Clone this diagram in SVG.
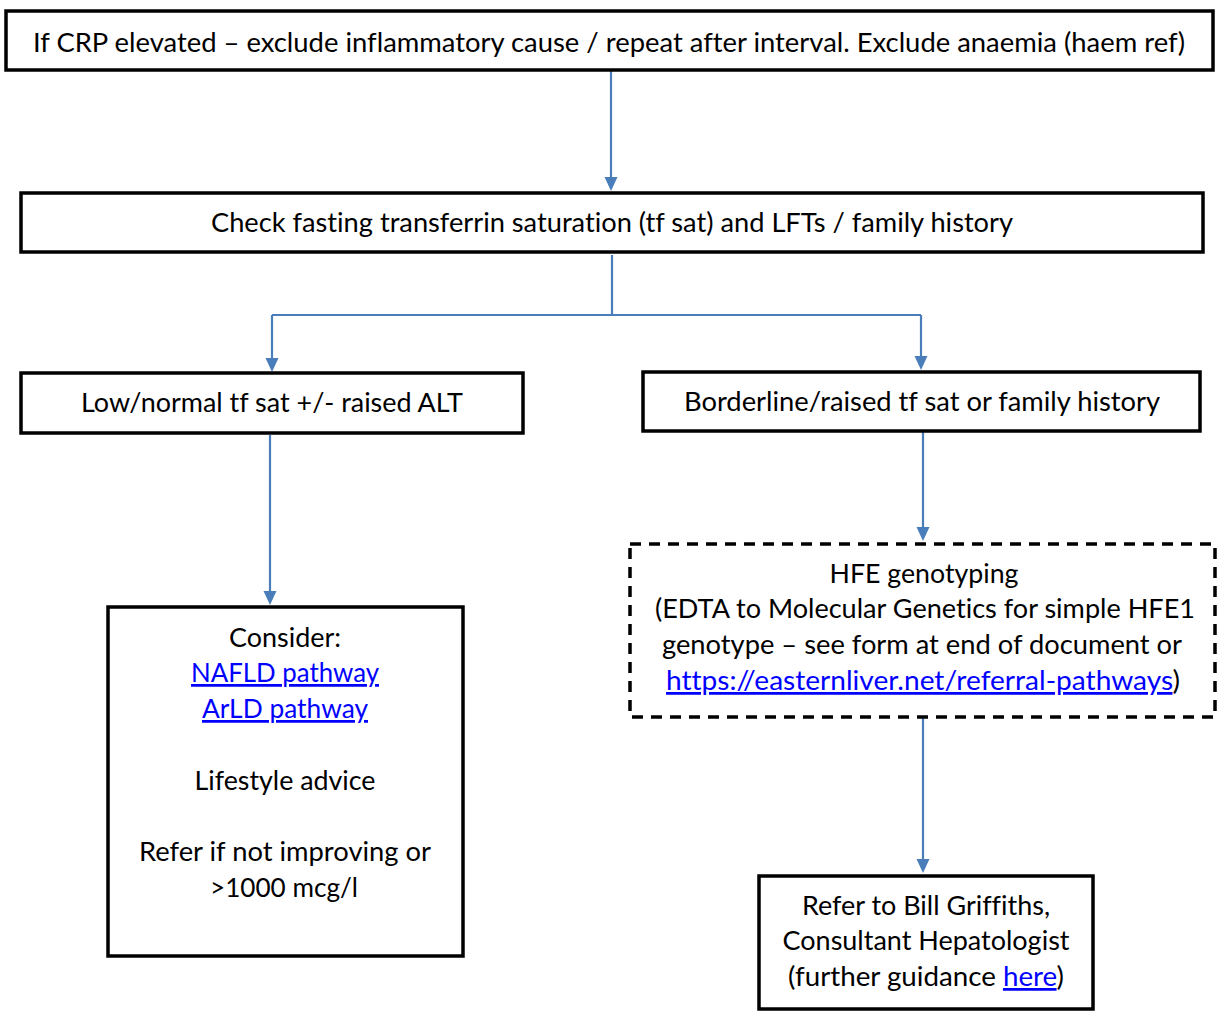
<svg xmlns="http://www.w3.org/2000/svg" width="1219" height="1012" viewBox="0 0 1219 1012">
<defs>
<style>
.box{fill:#fff;stroke:#000;stroke-width:3.5}
.dash{fill:#fff;stroke:#000;stroke-width:3.5;stroke-dasharray:11 8}
.c{fill:none;stroke:#4A7EBB;stroke-width:2.2}
.ah{fill:#4A7EBB}
text{font-family:Lato,"Liberation Sans",sans-serif;font-size:27.5px;fill:#000;text-anchor:middle;font-variant-ligatures:none}
.lk{fill:#0000FF;text-decoration:underline}
</style>
</defs>
<rect width="1219" height="1012" fill="#fff"/>
<g id="connectors">
<path class="c" d="M611,71 V177"/>
<path class="ah" d="M604.5,177 L617.5,177 L611,191 Z"/>
<path class="c" d="M612,255 V315 M272,315 H921 M272,315 V358 M921,315 V356"/>
<path class="ah" d="M265.5,358 L278.5,358 L272,372 Z"/>
<path class="ah" d="M914.5,356 L927.5,356 L921,370 Z"/>
<path class="c" d="M270,435 V591"/>
<path class="ah" d="M263.5,591 L276.5,591 L270,605 Z"/>
<path class="c" d="M923,432 V527"/>
<path class="ah" d="M916.5,527 L929.5,527 L923,541 Z"/>
<path class="c" d="M923,718 V859"/>
<path class="ah" d="M916.5,859 L929.5,859 L923,873 Z"/>
</g>
<g id="n1">
<rect class="box" x="6" y="11" width="1207" height="59"/>
<text x="609" y="52" textLength="1152" lengthAdjust="spacingAndGlyphs">If CRP elevated – exclude inflammatory cause / repeat after interval. Exclude anaemia (haem ref)</text>
</g>
<g id="n2">
<rect class="box" x="21" y="193" width="1182" height="59"/>
<text x="612" y="232" textLength="802" lengthAdjust="spacingAndGlyphs">Check fasting transferrin saturation (tf sat) and LFTs / family history</text>
</g>
<g id="n3">
<rect class="box" x="21" y="373" width="502" height="60"/>
<text x="272" y="412" textLength="382" lengthAdjust="spacingAndGlyphs">Low/normal tf sat +/- raised ALT</text>
</g>
<g id="n4">
<rect class="box" x="643" y="372" width="557" height="59"/>
<text x="922" y="411" textLength="476" lengthAdjust="spacingAndGlyphs">Borderline/raised tf sat or family history</text>
</g>
<g id="n5">
<rect class="box" x="108" y="607" width="355" height="349"/>
<text x="285" y="647" textLength="112" lengthAdjust="spacingAndGlyphs">Consider:</text>
<text x="285" y="682" class="lk" textLength="188" lengthAdjust="spacingAndGlyphs">NAFLD pathway</text>
<text x="285" y="718" class="lk" textLength="166" lengthAdjust="spacingAndGlyphs">ArLD pathway</text>
<text x="285" y="790" textLength="181" lengthAdjust="spacingAndGlyphs">Lifestyle advice</text>
<text x="285" y="861" textLength="292" lengthAdjust="spacingAndGlyphs">Refer if not improving or</text>
<text x="284" y="897" textLength="148" lengthAdjust="spacingAndGlyphs">&gt;1000 mcg/l</text>
</g>
<g id="n6">
<rect class="dash" x="630" y="544" width="585" height="173"/>
<text x="924" y="583" textLength="189" lengthAdjust="spacingAndGlyphs">HFE genotyping</text>
<text x="925" y="618" textLength="540" lengthAdjust="spacingAndGlyphs">(EDTA to Molecular Genetics for simple HFE1</text>
<text x="922" y="654" textLength="520" lengthAdjust="spacingAndGlyphs">genotype – see form at end of document or</text>
<text x="923" y="690" textLength="514" lengthAdjust="spacingAndGlyphs"><tspan class="lk">https://easternliver.net/referral-pathways</tspan>)</text>
</g>
<g id="n7">
<rect class="box" x="759" y="876" width="334" height="133"/>
<text x="926" y="915" textLength="248" lengthAdjust="spacingAndGlyphs">Refer to Bill Griffiths,</text>
<text x="926" y="950" textLength="287" lengthAdjust="spacingAndGlyphs">Consultant Hepatologist</text>
<text x="926" y="986" textLength="276" lengthAdjust="spacingAndGlyphs">(further guidance <tspan class="lk">here</tspan>)</text>
</g>
</svg>
